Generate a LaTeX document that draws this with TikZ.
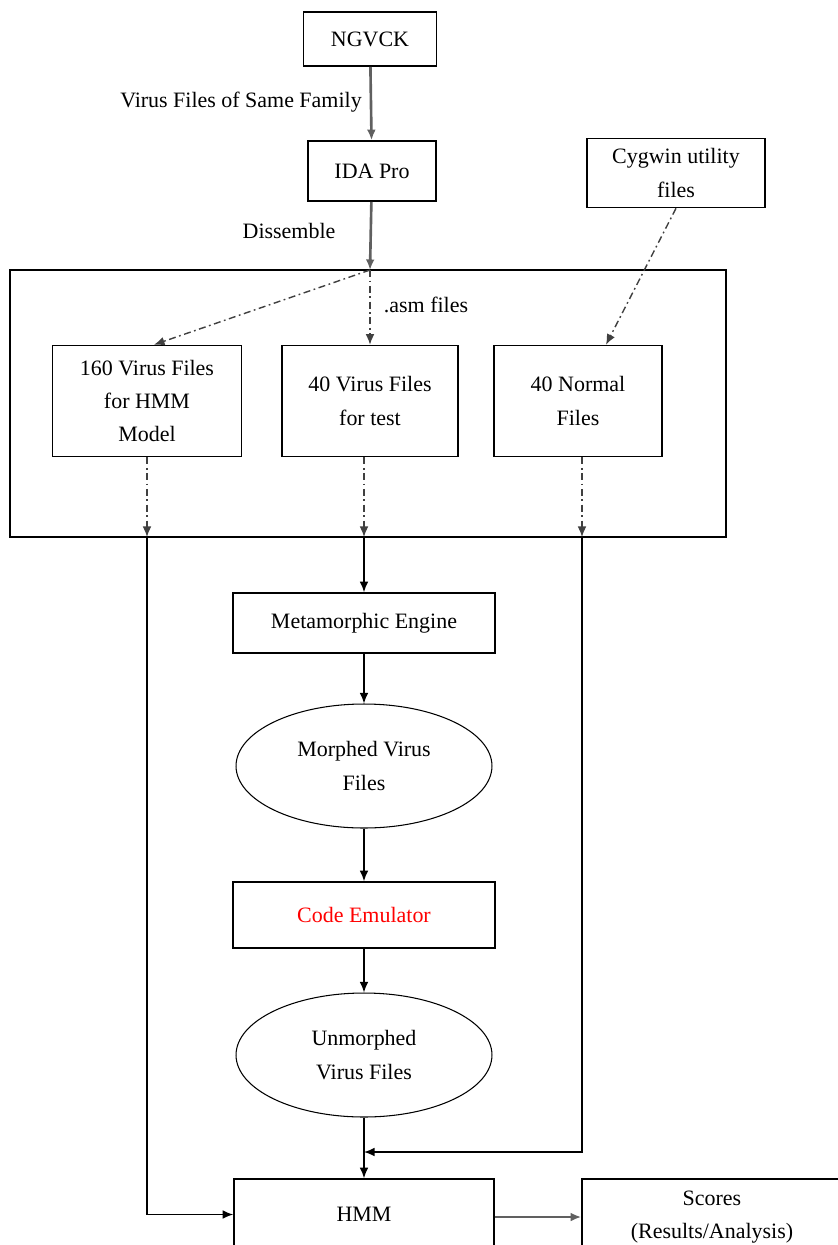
\documentclass[tikz,border=0pt]{standalone}
\usepackage{fontspec}
\setmainfont{Liberation Serif}
\usetikzlibrary{shapes.geometric,arrows.meta}
\begin{document}
\begin{tikzpicture}[x=0.02cm,y=-0.02cm,>={Latex[length=6pt,width=5pt]},
  box/.style={draw,line width=0.9pt,align=center,font=\fontsize{12.5}{19}\selectfont},
  oval/.style={draw,ellipse,line width=0.6pt,align=center,minimum width=5.12cm,minimum height=2.48cm,font=\fontsize{12.5}{19}\selectfont},
  lbl/.style={font=\fontsize{12.5}{14}\selectfont},
  flow/.style={->,line width=0.9pt},
  grayflow/.style={->,line width=1.5pt,gray!75!black},
  dashflow/.style={->,line width=0.8pt,black!75,dash pattern=on 4pt off 2pt on 1pt off 2pt}]
 \useasboundingbox (0,0) rectangle (838,1245);
 \clip (0,0) rectangle (838,1245);
 % top part
 \node[box,minimum width=2.66cm,minimum height=1.08cm] (ngvck) at (370,39) {NGVCK};
 \node[box,minimum width=2.56cm,minimum height=1.2cm] (ida) at (372,171) {IDA Pro};
 \node[box,minimum width=3.56cm,minimum height=1.38cm] (cyg) at (676,173) {Cygwin utility\\files};
 \node[lbl] (fam) at (241,102) {Virus Files of Same Family};
 \node[lbl] (dis) at (289,231) {Dissemble};
 % frame with the three file sets
 \node[draw,line width=0.9pt,minimum width=14.32cm,minimum height=5.34cm] (frame) at (368,403.5) {};
 \coordinate (split) at (370,270);
 \node[box,minimum width=3.78cm,minimum height=2.22cm] (vhmm) at (147,401) {160 Virus Files\\for HMM\\Model};
 \node[box,minimum width=3.52cm,minimum height=2.22cm] (vtest) at (370,401) {40 Virus Files\\for test};
 \node[box,minimum width=3.36cm,minimum height=2.22cm] (norm) at (578,401) {40 Normal\\Files};
 \node[lbl] (asm) at (426,305) {.asm files};
 % middle column
 \node[box,minimum width=5.24cm,minimum height=1.2cm] (meta) at (364,623) {Metamorphic Engine};
 \node[oval] (morph) at (364,766) {Morphed Virus\\Files};
 \node[box,minimum width=5.24cm,minimum height=1.32cm,text=red] (emu) at (364,915) {Code Emulator};
 \node[oval] (unmorph) at (364,1055) {Unmorphed\\Virus Files};
 \node[box,minimum width=5.2cm,minimum height=1.42cm] (hmm) at (364,1214.5) {HMM};
 \node[box,minimum width=5.2cm,minimum height=1.52cm] (score) at (712,1217) {Scores\\(Results/Analysis)};
 \coordinate (hmmout) at (147,537);
 \coordinate (testout) at (364,537);
 \coordinate (normout) at (582,537);
 \coordinate (join) at (364,1152);
 % connectors
 \draw[grayflow] (ngvck) -- (ida);
 \draw[grayflow] (ida) -- (split);
 \draw[dashflow] (split) -- ([xshift=0.14cm]vhmm.north);
 \draw[dashflow] (split) -- (vtest.north);
 \draw[dashflow] (cyg.south) -- ([xshift=0.56cm]norm.north);
 \draw[dashflow] (vhmm.south) -- (hmmout);
 \draw[dashflow] (vtest.south -| testout) -- (testout);
 \draw[dashflow] (norm.south -| normout) -- (normout);
 \draw[flow] (testout) -- (meta);
 \draw[flow] (meta) -- (morph);
 \draw[flow] (morph) -- (emu);
 \draw[flow] (emu) -- (unmorph);
 \draw[flow] (unmorph) -- (hmm);
 \draw[flow] (normout) |- (join);
 \draw[flow] (hmmout) |- (hmm.west);
 \draw[grayflow] (hmm.east |- score.west) -- (score.west);
\end{tikzpicture}
\end{document}
